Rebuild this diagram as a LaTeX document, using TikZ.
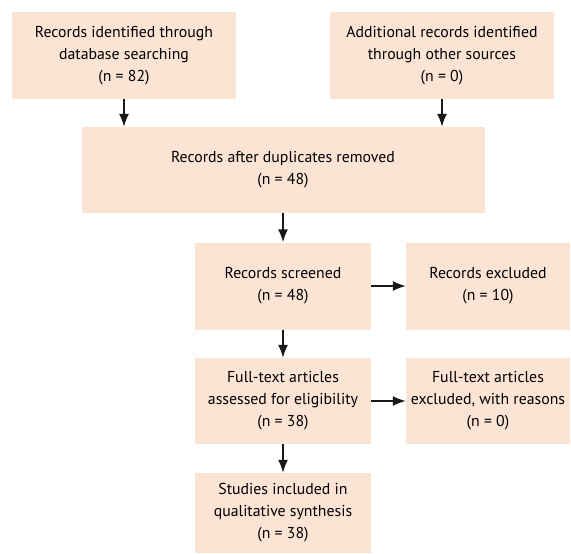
\documentclass[tikz,border=0pt]{standalone}
\usepackage{fontspec}
\setmainfont{PT Sans}
\usetikzlibrary{arrows.meta}
\definecolor{peach}{RGB}{252,228,212}

\begin{document}
\begin{tikzpicture}[x=1pt,y=-1pt]
\tikzset{box/.style = {fill=peach, align=center, inner sep=0pt, font=\fontsize{15.8}{22}\selectfont}}
\tikzset{edge/.style = {-{Latex[length=13pt,width=10pt]}, line width=1.6pt, black!90}}
\useasboundingbox (0,0) rectangle (571,554);
\foreach \pos/\name/\w/\h/\txt in {
  {(124,55.5)/ident/224/87/{Records identified through\\database searching\\(n = 82)}},
  {(442,55.5)/other/224/87/{Additional records identified\\through other sources\\(n = 0)}},
  {(283,170)/dedup/403/86/{Records after duplicates removed\\(n = 48)}},
  {(283,286)/screen/176/87/{Records screened\\(n = 48)}},
  {(488,286)/excl/164/87/{Records excluded\\(n = 10)}},
  {(283,401)/full/176/86/{Full-text articles\\assessed for eligibility\\(n = 38)}},
  {(488,401)/fullexcl/164/86/{Full-text articles\\excluded, with reasons\\(n = 0)}},
  {(283,513)/incl/176/80/{Studies included in\\qualitative synthesis\\(n = 38)}}}
\node[box, minimum width=\w pt, minimum height=\h pt] (\name) at \pos {\txt};

\foreach \from/\to in {ident/dedup, other/dedup, dedup/screen, screen/full, full/incl}
\draw[edge] (\from.south) -- (\from.south |- \to.north);

\foreach \from/\to in {screen/excl, full/fullexcl}
\draw[edge] (\from) -- (\to);
\end{tikzpicture}
\end{document}
